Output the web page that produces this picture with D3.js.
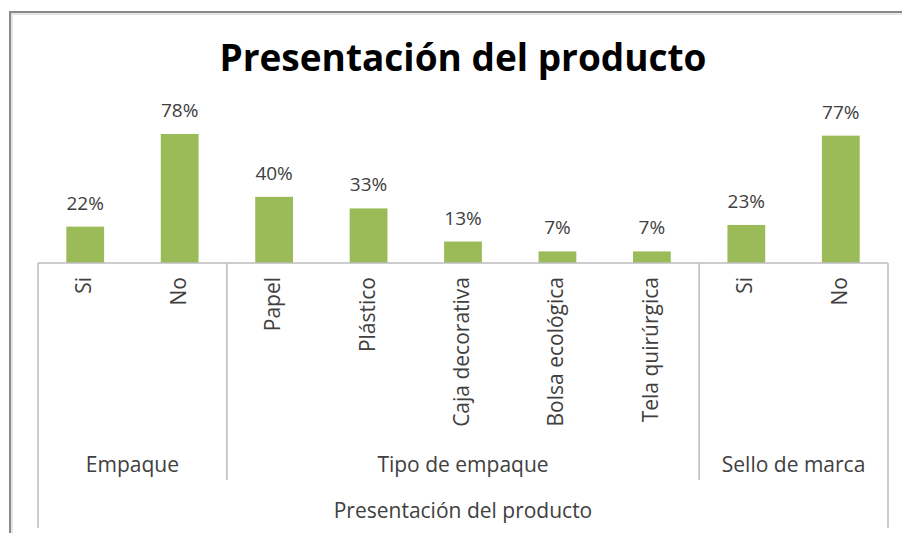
<!DOCTYPE html>
<html>
<head>
<meta charset="utf-8">
<script src="https://cdn.jsdelivr.net/npm/d3@7"></script>
<style>
  html, body { margin: 0; padding: 0; background: #fff; }
  svg { display: block; }
  text { font-family: "Open Sans", Lato, sans-serif; }
</style>
</head>
<body>
<svg id="chart" width="902" height="533"></svg>
<script>
const title = "Presentación del producto";
const axisTitle = "Presentación del producto";
const categories = ["Si", "No", "Papel", "Plástico", "Caja decorativa", "Bolsa ecológica", "Tela quirúrgica", "Si", "No"];
const groups = ["Empaque", "Empaque", "Tipo de empaque", "Tipo de empaque", "Tipo de empaque", "Tipo de empaque", "Tipo de empaque", "Sello de marca", "Sello de marca"];
const values = [0.22, 0.78, 0.40, 0.33, 0.13, 0.07, 0.07, 0.23, 0.77];
const valueLabels = ["22%", "78%", "40%", "33%", "13%", "7%", "7%", "23%", "77%"];

const svg = d3.select("#chart");
const W = 902, H = 533;
const left = 38, right = 888, baseY = 263;
const barColor = "#9bbb59";
const textColor = "#404040";
const lineColor = "#bcbcbc";

// outer frame (top + left edges visible)
svg.append("line").attr("x1", 10).attr("x2", W).attr("y1", 12).attr("y2", 12)
  .attr("stroke", "#8a8a8a").attr("stroke-width", 2);
svg.append("line").attr("x1", 10).attr("x2", W).attr("y1", 14).attr("y2", 14)
  .attr("stroke", "#dcdcdc").attr("stroke-width", 1.5);
svg.append("line").attr("x1", 10).attr("x2", 10).attr("y1", 11).attr("y2", H)
  .attr("stroke", "#8a8a8a").attr("stroke-width", 2);
svg.append("line").attr("x1", 12).attr("x2", 12).attr("y1", 13).attr("y2", H)
  .attr("stroke", "#dcdcdc").attr("stroke-width", 1.5);

const idx = d3.range(categories.length);
const x = d3.scaleBand().domain(idx).range([left, right]).paddingInner(0.6).paddingOuter(0.3);
const y = d3.scaleLinear().domain([0, 0.8]).range([baseY, baseY - 132.3]);

// title
svg.append("text").attr("x", 463).attr("y", 71).attr("text-anchor", "middle")
  .attr("font-size", 37).attr("font-weight", "bold").attr("fill", "#000").text(title);

// bars
svg.append("g").selectAll("rect").data(idx).join("rect")
  .attr("x", i => x(i)).attr("width", x.bandwidth())
  .attr("y", i => y(values[i])).attr("height", i => y(0) - y(values[i]))
  .attr("fill", barColor);

// value labels
svg.append("g").selectAll("text").data(idx).join("text")
  .attr("x", i => x(i) + x.bandwidth() / 2)
  .attr("y", i => y(values[i]) - 17)
  .attr("text-anchor", "middle").attr("font-size", 19).attr("fill", textColor)
  .text(i => valueLabels[i]);

// axis baseline
const axisG = svg.append("g").attr("stroke", lineColor).attr("stroke-width", 1.5);
axisG.append("line").attr("x1", left).attr("x2", right).attr("y1", baseY).attr("y2", baseY);
axisG.append("line").attr("x1", left).attr("x2", left).attr("y1", baseY).attr("y2", 528);
axisG.append("line").attr("x1", right).attr("x2", right).attr("y1", baseY).attr("y2", 528);

// group boundaries
const groupNames = [...new Set(groups)];
const step = x.step();
const groupInfo = groupNames.map(g => {
  const ids = idx.filter(i => groups[i] === g);
  const start = left + d3.min(ids) * step;
  const end = left + (d3.max(ids) + 1) * step;
  return { name: g, start, end };
});
groupInfo.slice(1).forEach(gi => {
  axisG.append("line").attr("x1", gi.start).attr("x2", gi.start).attr("y1", baseY).attr("y2", 480);
});

// category labels (rotated)
svg.append("g").selectAll("text").data(idx).join("text")
  .attr("transform", i => `translate(${x(i) + x.bandwidth() / 2 + 6},277) rotate(-90)`)
  .attr("text-anchor", "end").attr("font-size", 21).attr("fill", textColor)
  .text(i => categories[i]);

// group labels
svg.append("g").selectAll("text").data(groupInfo).join("text")
  .attr("x", d => (d.start + d.end) / 2).attr("y", 472)
  .attr("text-anchor", "middle").attr("font-size", 21).attr("fill", textColor)
  .text(d => d.name);

// axis title
svg.append("text").attr("x", (left + right) / 2).attr("y", 518)
  .attr("text-anchor", "middle").attr("font-size", 21).attr("fill", textColor)
  .text(axisTitle);
</script>
</body>
</html>
